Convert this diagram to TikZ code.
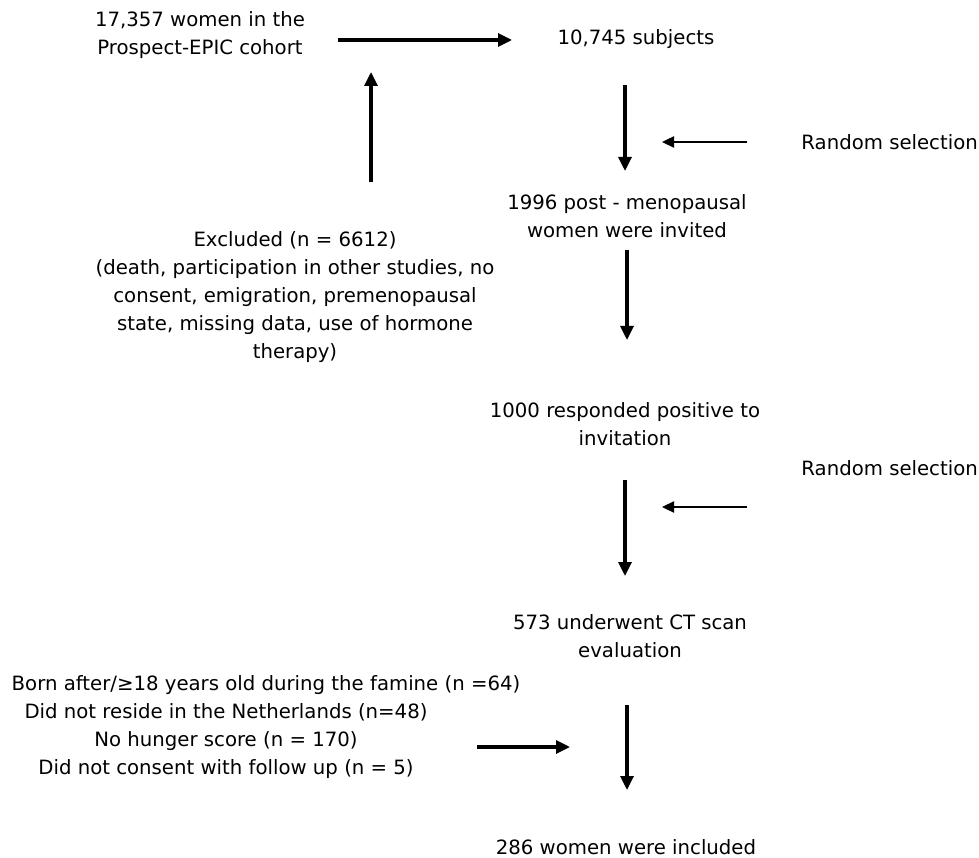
\documentclass[tikz,border=0pt]{standalone}
\usepackage{fontspec}
\setmainfont{DejaVu Sans}
\usetikzlibrary{arrows.meta}
\begin{document}
\begin{tikzpicture}[x=1pt,y=-1pt,
  txt/.style={font=\fontsize{19.7}{28}\selectfont, inner sep=0pt, align=center},
  arr/.style={line width=3.2pt, -{Triangle[length=14pt,width=13pt]}},
  sidearr/.style={line width=2.4pt, -{Triangle[length=12pt,width=11pt]}}]
\useasboundingbox (0,0) rectangle (979,858);

% text nodes
\node[txt] (cohort) at (200,35) {17,357 women in the\\Prospect-EPIC cohort};
\node[txt] (subj) at (636,39) {10,745 subjects};
\node[txt, anchor=east] (rs1) at (978,142) {Random selection};
\node[txt] (invited) at (627,216) {1996 post - menopausal\\women were invited};
\node[txt] (excl) at (295,297) {Excluded (n = 6612)\\(death, participation in other studies, no\hspace*{24pt}\\consent, emigration, premenopausal\hspace*{24pt}\\state, missing data, use of hormone\hspace*{24pt}\\therapy)};
\node[txt] (resp) at (625,424) {1000 responded positive to\\invitation};
\node[txt, anchor=east] (rs2) at (978,468) {Random selection};
\node[txt] (ct) at (630,636) {573 underwent CT scan\\evaluation};
\node[txt] (reasons) at (226,727) {\hspace*{80pt}Born after/≥18 years old during the famine (n =64)\\Did not reside in the Netherlands (n=48)\\No hunger score (n = 170)\\Did not consent with follow up (n = 5)};
\node[txt] (incl) at (626,847) {286 women were included};

% arrow end points
\coordinate (c1a) at (338,40);  \coordinate (c1b) at (512,40);
\coordinate (c2a) at (371,182); \coordinate (c2b) at (371,72);
\coordinate (c3a) at (625,85);  \coordinate (c3b) at (625,171);
\coordinate (c4a) at (747,142); \coordinate (c4b) at (662,142);
\coordinate (c5a) at (627,250); \coordinate (c5b) at (627,340);
\coordinate (c6a) at (625,480); \coordinate (c6b) at (625,576);
\coordinate (c7a) at (747,507); \coordinate (c7b) at (662,507);
\coordinate (c8a) at (477,747); \coordinate (c8b) at (570,747);
\coordinate (c9a) at (627,705); \coordinate (c9b) at (627,790);

% connectors
\draw[arr] (c1a) -- (c1b);
\draw[arr] (c2a) -- (c2b);
\draw[arr] (c3a) -- (c3b);
\draw[sidearr] (c4a) -- (c4b);
\draw[arr] (c5a) -- (c5b);
\draw[arr] (c6a) -- (c6b);
\draw[sidearr] (c7a) -- (c7b);
\draw[arr] (c8a) -- (c8b);
\draw[arr] (c9a) -- (c9b);
\end{tikzpicture}
\end{document}
